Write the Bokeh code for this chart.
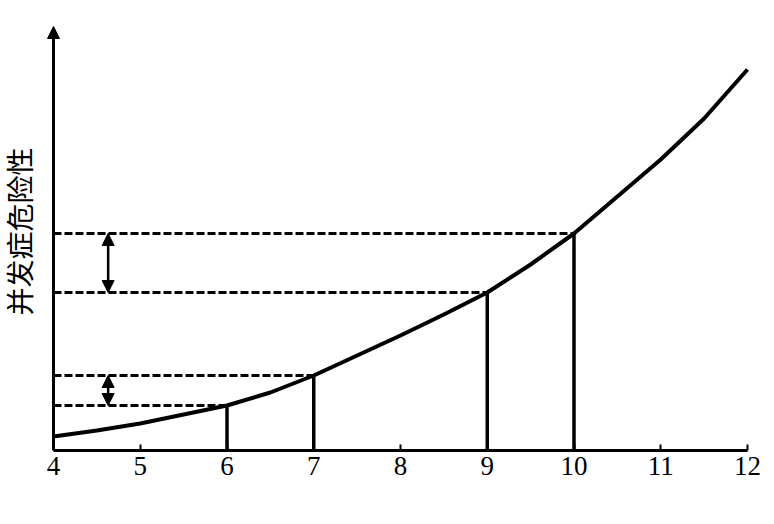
from bokeh.plotting import figure
from bokeh.models import Arrow, NormalHead, Range1d, FixedTicker, Label
from bokeh.embed import file_html
from bokeh.resources import INLINE

# data
x_curve = [4, 4.5, 5, 5.5, 6, 6.5, 7, 7.5, 8, 8.5, 9, 9.5, 10, 10.5, 11, 11.5, 12]
risk_curve = [14, 20, 27, 36, 45, 58, 75, 95, 115, 136, 158, 186, 217, 254, 291, 332, 381]
mark_x = [6, 7, 9, 10]
mark_risk = [45, 75, 158, 217]
arrow_x = 4.63
arrow_pairs = [(45, 75), (158, 217)]
x_ticks = [4, 5, 6, 7, 8, 9, 10, 11, 12]
y_label = "并发症危险性"
y_top = 424

PX = 86.75  # pixels per x unit
x0 = 4 - 53 / PX
FW = 760
p = figure(output_backend="svg", toolbar_location=None,
           width=766, height=516,
           min_border_left=0, min_border_right=6, min_border_top=20, min_border_bottom=66,
           x_range=Range1d(x0, x0 + FW / PX), y_range=Range1d(0, 430))
p.outline_line_color = None
p.xgrid.visible = False
p.ygrid.visible = False
p.yaxis.visible = False
p.background_fill_color = "white"

# x axis
xa = p.xaxis[0]
xa.ticker = FixedTicker(ticks=x_ticks)
xa.bounds = (4, 12)
xa.axis_line_width = 3
xa.axis_line_color = "black"
xa.major_tick_in = 6
xa.major_tick_out = 0
xa.major_tick_line_width = 2
xa.major_tick_line_color = "black"
xa.minor_tick_line_color = None
xa.major_label_text_font = "Liberation Serif"
xa.major_label_text_font_size = "27px"
xa.major_label_text_color = "black"
xa.major_label_standoff = 6

# y label
p.add_layout(Label(x=4 - 35 / PX, y=219, text=y_label, angle=90, angle_units="deg",
                   text_align="center", text_baseline="middle",
                   text_font="Noto Sans CJK SC", text_font_size="28px", text_color="black"))

# y axis line with arrow
p.add_layout(Arrow(x_start=4, y_start=0, x_end=4, y_end=y_top,
                   line_width=3, line_color="black",
                   end=NormalHead(size=12, fill_color="black", line_color="black")))

# curve
p.line(x_curve, risk_curve, line_width=4, line_color="black", line_join="round")

# vertical lines
p.segment(x0=mark_x, y0=[0] * len(mark_x), x1=mark_x, y1=mark_risk,
          line_width=3.5, line_color="black")

# dashed horizontal lines
p.segment(x0=[4] * len(mark_x), y0=mark_risk, x1=mark_x, y1=mark_risk,
          line_width=3, line_color="black", line_dash="8 3")

# double arrows
for lo, hi in arrow_pairs:
    p.add_layout(Arrow(x_start=arrow_x, y_start=lo, x_end=arrow_x, y_end=hi,
                       line_width=2.5, line_color="black",
                       start=NormalHead(size=12, fill_color="black", line_color="black"),
                       end=NormalHead(size=12, fill_color="black", line_color="black")))

open("out.html", "w").write(file_html(p, INLINE))
